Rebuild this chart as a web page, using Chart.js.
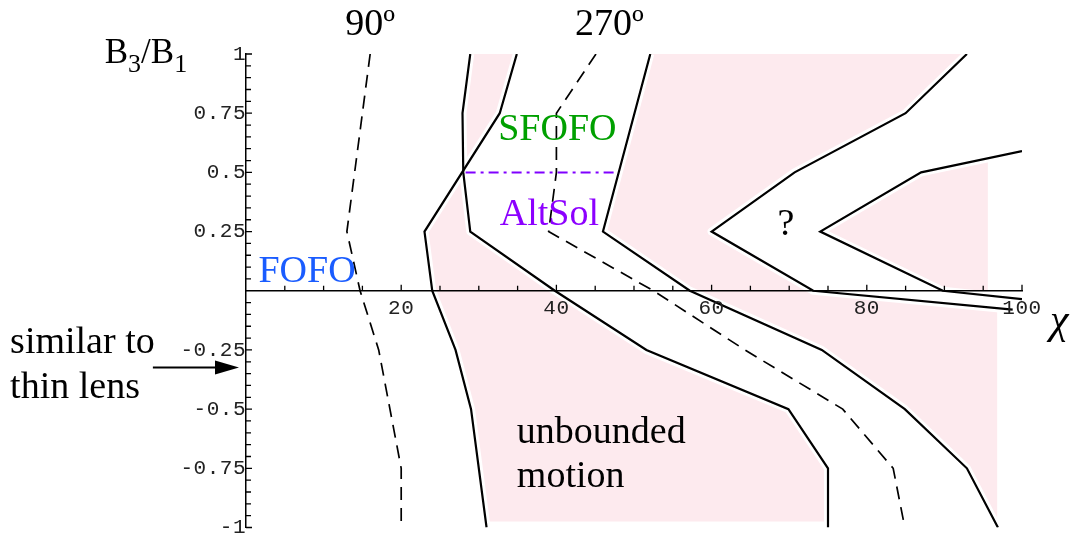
<!DOCTYPE html>
<html>
<head>
<meta charset="utf-8">
<script src="https://cdn.jsdelivr.net/npm/chart.js@4.4.0/dist/chart.umd.min.js"></script>
<style>
  html, body { margin: 0; padding: 0; background: #fff; }
</style>
</head>
<body>
<canvas id="chart" width="1078" height="541"></canvas>
<script>
// boundary curves, [chi, B3/B1]
const lineA = [[28.9, 1], [27.9, 0.75], [28, 0.5], [28.9, 0.25], [39.8, 0], [51.6, -0.25], [69.9, -0.5], [75, -0.75], [75, -1]];
const lineB = [[34.9, 1], [32.7, 0.75], [23, 0.25], [24, 0], [27, -0.25], [29, -0.5], [31, -1]];
const lineC = [[52.1, 1], [46, 0.25], [57.2, 0], [74.2, -0.25], [84.9, -0.5], [92.9, -0.75], [96.9, -1]];
const lineD = [[92.9, 1], [85, 0.75], [70.7, 0.5], [60, 0.25], [73.1, 0], [98.8, -0.08]];
const lineE = [[100, 0.59], [87, 0.5], [74, 0.25], [89.8, 0], [100, -0.035]];
const dash90 = [[16, 1], [13, 0.25], [14.7, 0], [17.1, -0.25], [20, -0.75], [20, -1]];
const dash270 = [[45.1, 1], [40, 0.75], [40, 0.5], [39, 0.25], [52.5, 0], [64.3, -0.25], [76.9, -0.5], [83.4, -0.75], [84.9, -1]];
const altSolEdge = [[28.3, 0.5], [48, 0.5]];

// unbounded-motion regions (pink)
const pinkLeft = [[28.9, 1], [34.9, 1], [32.7, 0.75], [27.97, 0.508], [28.9, 0.25], [39.8, 0], [51.6, -0.25], [69.9, -0.5], [75, -0.75], [75, -0.975],
  [30.9, -0.975], [29, -0.5], [27, -0.25], [24, 0], [23, 0.25], [27.97, 0.508], [27.9, 0.75]];
const pinkRight = [[52.1, 1], [92.9, 1], [85, 0.75], [70.7, 0.5], [60, 0.25], [73.1, 0], [96.8, -0.074], [96.8, -0.965], [96.3, -0.965],
  [92.9, -0.75], [84.9, -0.5], [74.2, -0.25], [57.2, 0], [46, 0.25]];
const pinkWedge = [[74, 0.25], [87, 0.5], [95.6, 0.557], [95.6, -0.02], [89.8, 0]];

const pink = 'rgb(253,234,238)';

// text placed in data coordinates
const notes = [
  { text: 'FOFO', x: 1.6, y: 0.035, color: '#1a5cff' },
  { text: 'SFOFO', x: 32.5, y: 0.638, color: '#00a000' },
  { text: 'AltSol', x: 32.7, y: 0.279, color: '#8c00ff' },
  { text: '?', x: 68.5, y: 0.237, color: '#000' },
  { text: 'unbounded', x: 34.9, y: -0.642, color: '#000' },
  { text: 'motion', x: 34.9, y: -0.83, color: '#000' },
  { text: '90º', x: 12.8, y: 1.08, color: '#000' },
  { text: '270º', x: 42.4, y: 1.08, color: '#000' },
  { text: 'similar to', x: -30.4, y: -0.262, color: '#000' },
  { text: 'thin lens', x: -30.4, y: -0.455, color: '#000' }
];

const pts = arr => arr.map(p => ({ x: p[0], y: p[1] }));

const solid = d => ({ data: pts(d), borderColor: '#000', borderWidth: 2.2, order: 1 });
const halo = d => ({ data: pts(d), borderColor: '#fff', borderWidth: 8, borderJoinStyle: 'round', order: 2 });
const dashed = d => ({ data: pts(d), borderColor: '#000', borderWidth: 1.7, borderDash: [13, 8], order: 1 });
const area = d => ({ data: pts(d), borderColor: 'rgba(0,0,0,0)', borderWidth: 0, backgroundColor: pink, fill: 'shape', order: 3 });

const solids = [lineA, lineB, lineC, lineD, lineE];

const datasets = [
  { data: pts(altSolEdge), borderColor: '#8000ff', borderWidth: 2, borderDash: [10, 5, 3, 5], order: 0 },
  ...solids.map(solid),
  dashed(dash90),
  dashed(dash270),
  ...solids.map(halo),
  area(pinkLeft),
  area(pinkRight),
  area(pinkWedge)
];

// inward tick marks, major ones a bit longer
const tickMarks = {
  id: 'tickMarks',
  beforeDraw(chart) {
    chart.ctx.letterSpacing = '0.5px';
  },
  afterDraw(chart) {
    const { ctx, scales: { x, y } } = chart;
    const x0 = x.getPixelForValue(0);
    const y0 = y.getPixelForValue(0);
    ctx.save();
    ctx.strokeStyle = '#000';
    ctx.lineWidth = 1.3;
    ctx.beginPath();
    x.ticks.forEach(t => {
      if (t.value === 0) return;
      const px = x.getPixelForValue(t.value);
      const len = t.value % 20 === 0 ? 6 : 5;
      ctx.moveTo(px, y0);
      ctx.lineTo(px, y0 - len);
    });
    y.ticks.forEach(t => {
      const q = Math.round(t.value * 100);
      if (q === 0) return;
      const py = y.getPixelForValue(t.value);
      const len = q % 25 === 0 ? 6 : 5;
      ctx.moveTo(x0, py);
      ctx.lineTo(x0 + len, py);
    });
    ctx.stroke();
    ctx.restore();
  }
};

const annotations = {
  id: 'annotations',
  afterDraw(chart) {
    const { ctx, scales: { x, y } } = chart;
    ctx.save();
    ctx.letterSpacing = '0px';
    ctx.textBaseline = 'alphabetic';
    ctx.textAlign = 'left';
    ctx.font = '38px "Liberation Serif", "Times New Roman", serif';
    notes.forEach(n => {
      ctx.fillStyle = n.color;
      ctx.fillText(n.text, x.getPixelForValue(n.x), y.getPixelForValue(n.y));
    });

    // axis titles
    ctx.fillStyle = '#000';
    ctx.font = 'italic 42px "Liberation Serif", "Times New Roman", serif';
    ctx.fillText('χ', x.getPixelForValue(103.6), y.getPixelForValue(-0.18));

    let px = x.getPixelForValue(-18.2);
    const py = y.getPixelForValue(0.962);
    const parts = [['B', 0, 35], ['3', 9, 26], ['/B', 0, 35], ['1', 9, 26]];
    parts.forEach(([s, dy, size]) => {
      ctx.font = size + 'px "Liberation Serif", "Times New Roman", serif';
      ctx.fillText(s, px, py + dy);
      px += ctx.measureText(s).width;
    });

    // arrow pointing at the axis
    const ay = y.getPixelForValue(-0.324);
    const ax1 = x.getPixelForValue(-12);
    const ax2 = x.getPixelForValue(-0.9);
    ctx.strokeStyle = '#000';
    ctx.lineWidth = 2;
    ctx.beginPath();
    ctx.moveTo(ax1, ay);
    ctx.lineTo(ax2 - 20, ay);
    ctx.stroke();
    ctx.beginPath();
    ctx.moveTo(ax2, ay);
    ctx.lineTo(ax2 - 24, ay - 7);
    ctx.lineTo(ax2 - 24, ay + 7);
    ctx.closePath();
    ctx.fill();
    ctx.restore();
  }
};

const tickFont = { family: '"Liberation Mono", "Courier New", monospace', size: 21 };

new Chart(document.getElementById('chart'), {
  type: 'line',
  data: { datasets },
  options: {
    responsive: false,
    animation: false,
    events: [],
    layout: { padding: { left: 246, right: 56, top: 54, bottom: 9 } },
    elements: {
      point: { radius: 0 },
      line: { tension: 0, fill: false }
    },
    plugins: {
      legend: { display: false },
      tooltip: { enabled: false }
    },
    scales: {
      x: {
        type: 'linear',
        min: 0,
        max: 100,
        position: { y: 0 },
        grid: { display: false, drawTicks: false },
        border: { display: true, color: '#000', width: 1.5, z: 1 },
        ticks: {
          z: 1,
          stepSize: 5,
          autoSkip: false,
          maxRotation: 0,
          padding: 5,
          color: '#222',
          font: tickFont,
          callback: v => (v % 20 === 0 && v !== 0) ? String(v) : ''
        }
      },
      y: {
        type: 'linear',
        min: -1,
        max: 1,
        position: { x: 0 },
        grid: { display: false, drawTicks: false },
        border: { display: true, color: '#000', width: 1.5, z: 1 },
        ticks: {
          z: 1,
          stepSize: 0.05,
          autoSkip: false,
          color: '#222',
          font: { ...tickFont, lineHeight: 1 },
          callback: v => {
            const q = Math.round(v * 100);
            return (q % 25 === 0 && q !== 0) ? String(q / 100) : '';
          }
        }
      }
    }
  },
  plugins: [tickMarks, annotations]
});
</script>
</body>
</html>
